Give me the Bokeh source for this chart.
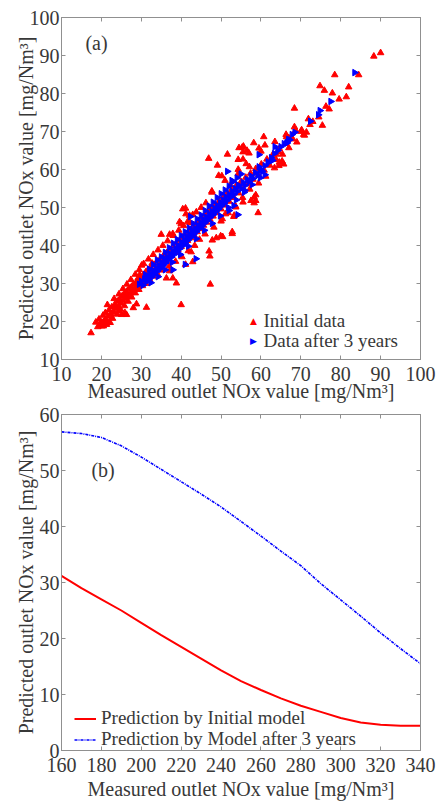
import numpy as np
from bokeh.plotting import figure
from bokeh.models import (Range1d, LinearAxis, FixedTicker, Label, Legend, LegendItem,
                          ColumnDataSource)
from bokeh.layouts import column
from bokeh.embed import file_html
from bokeh.resources import INLINE

# ---------------- data: panel (a) ----------------
initial_pts = [
    (88.3,89.8),(90.0,90.7),(78.5,84.9),(74.8,82.0),(75.9,80.8),(77.9,80.1),(82.0,81.7),(81.4,79.1),
    (77.1,75.9),(75.4,71.6),(71.9,73.3),(72.3,71.8),(68.4,76.1),(68.4,71.2),(68.7,70.3),(70.9,69.0),
    (70.0,70.0),(66.4,68.6),(67.0,68.3),(63.5,67.3),(60.7,68.6),(61.0,66.4),(58.2,67.0),(59.5,65.6),
    (55.6,66.1),(56.5,65.0),(57.0,64.3),(55.5,64.6),(60.0,64.8),(63.8,64.0),(64.5,64.6),(65.3,62.2),
    (64.6,61.9),(51.6,64.0),(46.9,62.9),(54.5,65.7),(49.1,61.1),(54.3,62.6),(54.3,60.0),(56.3,61.5),
    (57.1,60.7),(49.4,58.4),(51.0,57.1),(47.7,54.3),(54.3,58.9),(58.7,53.3),(52.3,55.8),
    (17.4,17.0),(19.7,19.4),(20.5,18.8),(22.2,19.7),(21.5,24.4),(23.6,24.0),(26.3,21.8),(25.9,22.3),
    (28.0,23.6),(28.8,24.6),(31.3,23.7),(29.2,31.4),(30.5,30.1),(35.0,42.9),(37.1,42.9),(37.9,31.4),
    (40.0,24.4),(40.4,49.6),(41.2,48.3),(42.2,46.0),(38.8,30.1),(42.5,38.3),(42.9,35.7),(47.3,29.8),
    (47.0,38.5),(47.2,37.2),(47.8,41.4),(49.9,42.5),(48.8,42.0),(50.3,47.0),(51.1,48.3),(52.8,43.6),
    (53.2,47.6),(55.5,51.4),(57.5,51.8),(59.3,48.6),(58.3,51.2),(42.1,47.9),(42.9,48.1),(32.7,35.3),
    (20.1,18.8),(20.5,19.9),(21.2,20.5),(22.0,19.7),(22.6,21.0),(24.5,22.7),(25.1,21.8),(30.1,34.8),
    (29.6,32.3),(36.3,31.4),(41.1,35.0),(37.1,33.3),(55.3,65.8),(55.5,62.7),(50.2,58.3),(47.7,54.0),
    (41.1,49.8),(39.6,46.2),(53.3,47.9),(52.8,43.1),(50.4,42.3),(58.7,51.8),(58.3,52.7),(64.5,61.0),
    (65.7,61.4),(70.7,69.2),(66.3,69.2),(53.7,50.1),(37.9,43.1),(40.0,45.7),(41.6,46.2),
    (18.6,19.8),(19.1,18.6),(19.4,20.6),(19.9,19.9),(20.4,21.6),(20.8,20.2),(21.0,22.3),(21.6,21.4),
    (21.9,23.0),(22.4,22.1),(22.6,23.8),(23.0,22.6),(23.3,24.4),(23.7,23.3),(24.0,25.3),(24.3,24.0),
    (24.6,25.9),(24.9,24.8),(25.2,26.7),(25.5,25.4),(25.7,27.3),(26.0,26.1),(26.3,27.9),(26.6,26.8),
    (26.9,28.6),(27.2,27.4),(27.5,29.1),(27.8,28.0),(28.0,29.8),(28.4,28.7),(28.7,30.3),(29.0,29.2),
    (29.3,31.0),(29.6,29.8),(29.9,31.6),(30.2,30.5),(30.5,32.3),(30.8,31.2),(31.1,33.0),(31.4,31.7),
    (31.7,33.6),(32.0,32.4),(32.4,34.3),(32.8,33.0),(33.2,35.0),(33.6,33.7),(34.0,35.8),(34.4,34.4),
    (34.8,36.6),(35.2,35.1),(35.6,37.4),(36.0,35.9),(36.4,38.1),(36.8,36.7),(37.2,38.9),(37.6,37.4),
    (38.0,39.8),(38.4,38.2),(38.8,40.6),(39.2,38.9),(39.6,41.4),(40.0,39.7),(40.4,42.2),(40.8,40.5),
    (41.2,43.0),(41.6,41.3),(42.0,43.9),(42.4,42.0),(42.8,44.7),(43.2,42.8),(43.6,45.5),(44.0,43.6),
    (44.4,46.4),(44.8,44.4),(45.2,47.2),(45.6,45.3),(46.0,48.0),(46.4,46.1),(46.8,48.9),(47.2,46.9),
    (47.6,49.8),(48.0,47.7),(48.5,50.6),(49.0,48.6),(49.5,51.6),(50.0,49.6),(50.5,52.6),(51.0,50.6),
    (51.5,53.6),(52.0,51.6),(52.6,54.6),(53.2,52.6),(53.8,55.7),(54.4,53.8),(55.0,56.8),(55.6,55.0),
    (56.2,57.9),(56.8,56.2),(57.4,59.0),(58.0,57.4),(58.7,60.2),(59.4,58.6),(60.1,61.4),(60.8,59.8),
    (61.5,62.7),(62.2,61.1),(63.0,64.0),(63.8,62.6),(64.6,65.5),(65.4,64.0),(66.2,66.8),(67.0,65.7),
    (68.0,68.0),(69.0,67.2),(70.2,70.4),(71.4,69.8),(73.0,72.6),(74.5,73.8),(76.3,76.6),(79.6,78.5),
    (84.5,84.9),
    (21.3,19.2),(22.8,20.8),(23.9,21.9),(24.8,23.2),(25.8,24.1),(26.7,25.3),(27.6,26.4),(28.5,27.5),
    (29.4,28.4),(30.3,29.4),(31.2,30.0),(32.1,31.0),(33.0,31.9),(34.0,32.6),(35.0,33.5),(23.2,26.0),
    (24.4,27.2),(25.4,28.6),(26.4,29.8),(27.4,31.0),(28.5,32.4),(29.5,33.6),(30.6,35.2),(31.8,36.4),
    (33.0,37.6),(34.2,38.8),(35.4,40.0),(36.6,41.2),(38.0,42.6),(39.4,44.0),(40.6,45.2),(43.8,48.8),
    (45.0,50.0),(46.2,51.2),(44.6,41.6),(46.0,43.0),(48.2,44.8),(50.0,46.4),(51.8,48.6),(53.6,50.4),
    (55.4,52.6),(57.2,54.8),(59.4,56.4),(61.2,58.2),(63.4,60.4),(37.0,34.6),(38.6,35.8),(40.2,37.0),
    (41.8,38.6),(43.4,40.0),
]
after3_pts = [
    (29.5,29.8),(30.0,30.6),(30.4,29.5),(30.8,31.2),(31.2,30.4),(31.5,31.9),(31.9,31.0),(32.2,32.6),
    (32.6,31.7),(33.0,33.4),(33.3,32.5),(33.7,34.0),(34.0,33.2),(34.4,34.8),(34.7,33.9),(35.1,35.5),
    (35.4,34.7),(35.8,36.3),(36.1,35.4),(36.5,37.0),(36.8,36.1),(37.2,37.8),(37.5,36.9),(37.9,38.5),
    (38.2,37.6),(38.6,39.3),(38.9,38.4),(39.3,40.0),(39.6,39.1),(40.0,40.8),(40.3,39.9),(40.7,41.5),
    (41.0,40.6),(41.4,42.3),(41.7,41.4),(42.1,43.0),(42.4,42.1),(42.8,43.8),(43.1,42.9),(43.5,44.5),
    (43.8,43.6),(44.2,45.3),(44.5,44.4),(44.9,46.0),(45.2,45.1),(45.6,46.8),(45.9,45.9),(46.3,47.5),
    (46.6,46.6),(47.0,48.3),(47.3,47.4),(47.7,49.0),(48.0,48.1),(48.4,49.8),(48.7,48.9),(49.1,50.5),
    (49.4,49.6),(49.8,51.3),(50.1,50.4),(50.5,52.0),(50.8,51.1),(51.2,52.8),(51.6,51.9),(52.0,53.5),
    (52.4,52.7),(52.8,54.3),(53.2,53.4),(53.6,55.0),(54.0,54.2),(54.5,55.8),(55.0,55.0),(55.5,56.6),
    (56.0,55.8),(56.5,57.4),(57.0,56.7),(57.5,58.3),(58.0,57.6),(58.6,59.2),(59.2,58.5),(59.8,60.1),
    (60.4,59.5),(61.0,61.0),(61.8,62.0),(62.6,63.1),(63.4,64.2),(64.2,65.0),(65.0,66.0),(65.8,66.8),
    (66.5,67.0),(67.2,67.8),(67.8,69.2),(68.5,69.8),(72.4,72.7),(74.4,74.4),(74.8,75.5),(77.5,77.9),
    (83.5,85.5),
    (31.0,32.4),(32.0,33.8),(33.0,35.0),(34.0,36.2),(35.0,37.0),(36.0,38.2),(37.0,39.4),(38.0,40.6),
    (39.0,41.6),(40.0,42.6),(41.0,43.6),(42.0,44.6),(43.0,45.8),(44.0,47.0),(45.0,48.0),(46.0,49.2),
    (47.0,50.4),(48.0,51.4),(49.0,52.6),(50.0,53.6),(51.0,54.6),(52.0,55.6),(53.0,56.8),(54.0,57.8),
    (55.0,58.8),(32.4,30.2),(34.2,31.8),(36.0,33.6),(37.8,35.6),(39.8,37.6),(41.8,39.8),(43.8,41.8),
    (45.8,44.0),(47.8,45.8),(49.8,47.8),(51.8,50.0),(53.8,52.0),(55.8,54.0),(57.8,56.0),(59.8,57.8),
    (37.9,33.6),(41.0,35.0),(43.7,36.5),(42.3,47.6),(51.6,59.5),(52.0,49.2),(53.2,50.5),(54.2,48.1),
    (59.5,63.9),(61.8,61.8),(62.9,62.4),(59.5,60.7),(60.0,59.9),(61.0,58.6),(52.7,57.1),(54.3,55.8),
    (55.9,54.5),(63.5,66.0),(66.9,67.9),(66.5,67.0),
]
initial_x = [p[0] for p in initial_pts]
initial_y = [p[1] for p in initial_pts]
after3_x = [p[0] for p in after3_pts]
after3_y = [p[1] for p in after3_pts]

a_x_ticks = [10, 20, 30, 40, 50, 60, 70, 80, 90, 100]
a_y_ticks = [10, 20, 30, 40, 50, 60, 70, 80, 90, 100]

# ---------------- data: panel (b) ----------------
b_x = [160, 170, 180, 190, 200, 210, 220, 230, 240, 250, 260, 270, 280, 290, 300, 310, 320, 330, 340]
b_initial = [31.2, 29.0, 27.0, 25.0, 22.8, 20.6, 18.5, 16.4, 14.3, 12.4, 10.8, 9.3, 8.0, 6.9, 5.8, 5.0, 4.6, 4.4, 4.4]
b_after3 = [56.9, 56.6, 55.9, 54.4, 52.4, 50.2, 48.0, 45.8, 43.5, 40.9, 38.3, 35.6, 33.0, 29.8, 26.9, 24.0, 21.0, 18.2, 15.5]
b_x_ticks = [160, 180, 200, 220, 240, 260, 280, 300, 320, 340]
b_y_ticks = [0, 10, 20, 30, 40, 50, 60]

FONT = "Liberation Serif"
FS = "20px"
LFS = "19px"
TXT = "#383838"
AXC = "#909090"
RED = "#ff0000"
BLUE = "#0000ff"
XLABEL = "Measured outlet NOx value [mg/Nm³]"
YLABEL = "Predicted outlet NOx value [mg/Nm³]"


def style(p, xt, yt, xtick_st, xstand, ystand):
    bottom = p.below[0]
    left = p.left[0]
    bottom.ticker = FixedTicker(ticks=xt)
    left.ticker = FixedTicker(ticks=yt)
    top = LinearAxis(ticker=FixedTicker(ticks=xt), major_label_text_color=None)
    right = LinearAxis(ticker=FixedTicker(ticks=yt), major_label_text_color=None)
    p.add_layout(top, "above")
    p.add_layout(right, "right")
    for ax in [bottom, left, top, right]:
        ax.axis_line_color = AXC
        ax.major_tick_line_color = AXC
        ax.major_tick_in = 4
        ax.major_tick_out = 0
        ax.minor_tick_line_color = None
        ax.major_label_text_font = FONT
        ax.major_label_text_font_size = FS
        ax.major_label_standoff = 0
    bottom.major_label_text_color = TXT
    left.major_label_text_color = TXT
    bottom.major_label_standoff = xtick_st
    left.major_label_standoff = 2
    for ax, lab, st in [(bottom, XLABEL, xstand), (left, YLABEL, ystand)]:
        ax.axis_label = lab
        ax.axis_label_text_font = FONT
        ax.axis_label_text_font_size = FS
        ax.axis_label_text_font_style = "normal"
        ax.axis_label_text_color = TXT
        ax.axis_label_standoff = st
    p.xgrid.grid_line_color = None
    p.ygrid.grid_line_color = None
    p.outline_line_color = AXC
    p.background_fill_color = "white"
    p.border_fill_color = "white"


def text_label(p, x, y, s, color=TXT, font=FONT, size=FS, align="left"):
    p.add_layout(Label(x=x, y=y, x_units="screen", y_units="screen", text=s,
                       text_font=font, text_font_size=size, text_color=color,
                       text_align=align, text_baseline="middle"))


def one_item_legend(label, renderer, y):
    return Legend(items=[LegendItem(label=label, renderers=[renderer])],
                  location=(13, y), border_line_color=None, background_fill_alpha=0,
                  padding=0, margin=0, spacing=0, glyph_width=22, glyph_height=19,
                  label_height=19, label_standoff=5, label_text_font=FONT,
                  label_text_font_size=LFS, label_text_color=TXT)


# ---------------- panel (a) ----------------
pa = figure(width=443, height=404, x_range=Range1d(10, 100), y_range=Range1d(10, 100),
            output_backend="svg", toolbar_location=None,
            min_border_left=61, min_border_right=20, min_border_top=17, min_border_bottom=42)
style(pa, a_x_ticks, a_y_ticks, 7, -4, -10)
pa.scatter(initial_x, initial_y, marker="triangle", size=6.5, fill_color=RED, line_color=RED)
src_b = ColumnDataSource(dict(x=after3_x, y=after3_y, ang=[-np.pi / 2] * len(after3_x)))
pa.scatter("x", "y", source=src_b, marker="triangle", angle="ang", size=6.5,
           fill_color=BLUE, line_color=BLUE)
pa.add_layout(Label(x=16, y=93.3, text="(a)", text_font=FONT, text_font_size=FS,
                    text_color=TXT, text_baseline="middle"))
# legend (a), drawn as text so that the right-pointing marker can be shown
text_label(pa, 192, 39, "▲", color=RED, font="DejaVu Sans", size="9px", align="center")
text_label(pa, 192, 19, "▶", color=BLUE, font="DejaVu Sans", size="9px", align="center")
text_label(pa, 202, 39, "Initial data", size=LFS)
text_label(pa, 202, 19, "Data after 3 years", size=LFS)

# ---------------- panel (b) ----------------
pb = figure(width=443, height=398, x_range=Range1d(160, 340), y_range=Range1d(0, 60),
            output_backend="svg", toolbar_location=None,
            min_border_left=60, min_border_right=23, min_border_top=10, min_border_bottom=46)
style(pb, b_x_ticks, b_y_ticks, 7, 3, 0)
l1 = pb.line(b_x, b_initial, line_color=RED, line_width=2)
l2 = pb.line(b_x, b_after3, line_color=BLUE, line_width=1.6, line_dash="3 1 1 1")
pb.add_layout(Label(x=175, y=50.1, text="(b)", text_font=FONT, text_font_size=FS,
                    text_color=TXT, text_baseline="middle"))
pb.add_layout(one_item_legend("Prediction by Initial model", l1, 21))
pb.add_layout(one_item_legend("Prediction by Model after 3 years", l2, 0))

layout = column(pa, pb, spacing=0)
open("out.html", "w").write(file_html(layout, INLINE))
